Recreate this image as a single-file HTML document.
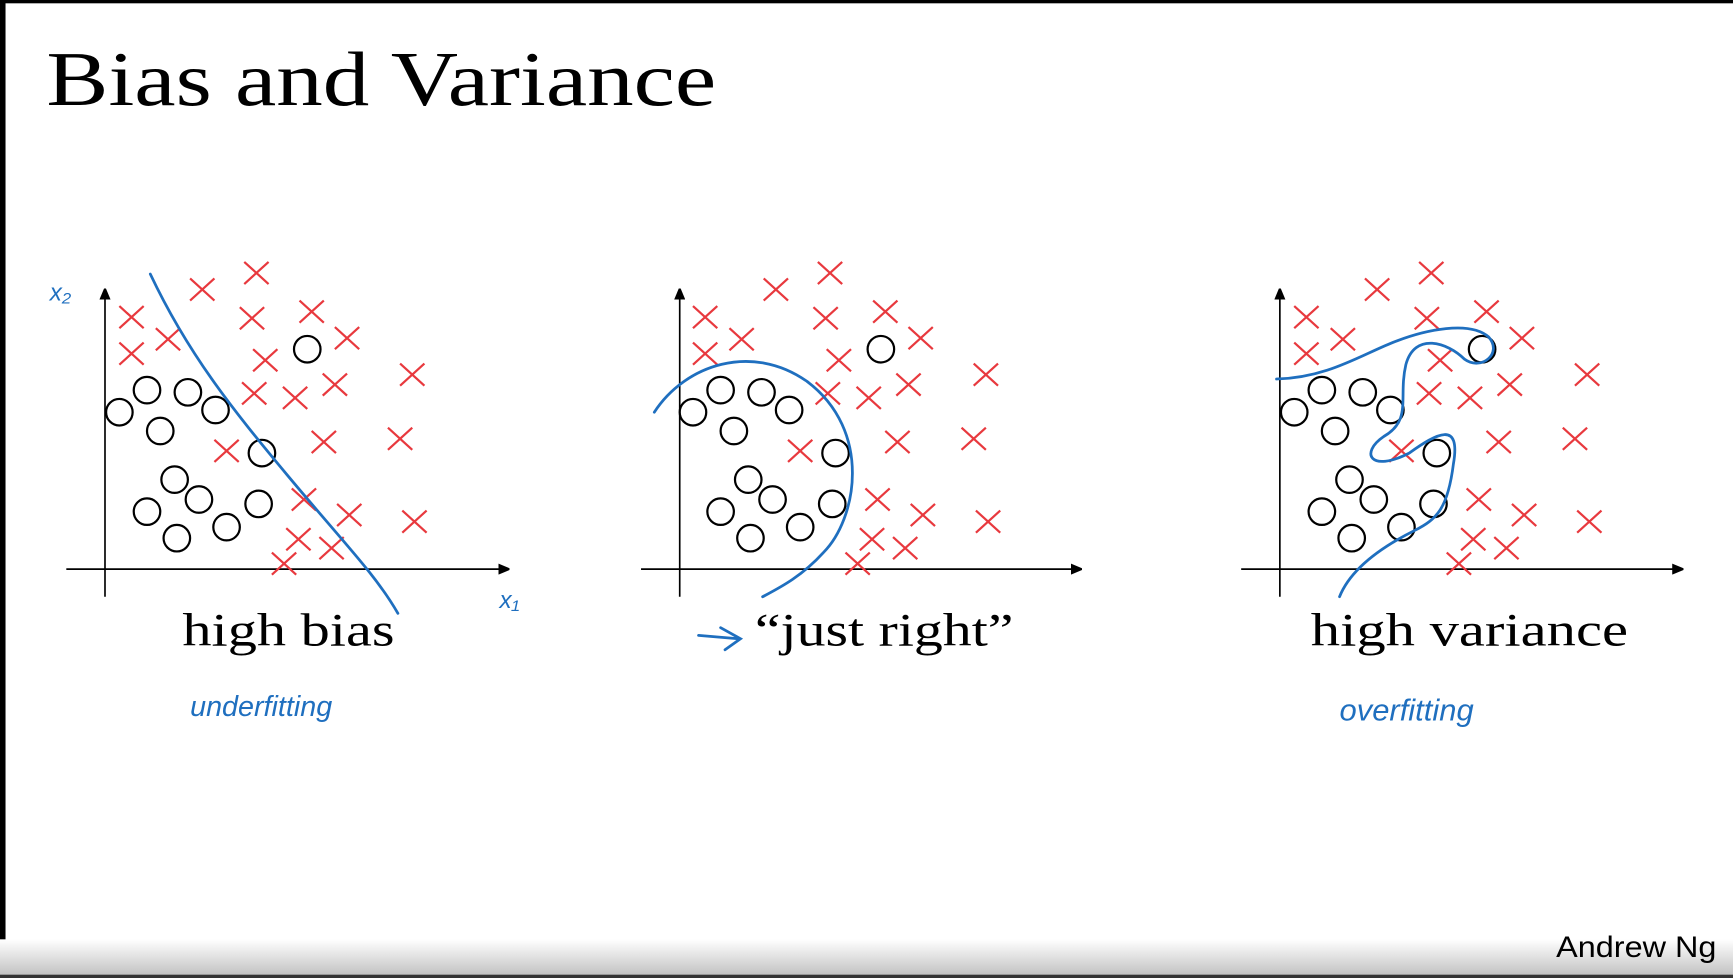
<!DOCTYPE html>
<html><head><meta charset="utf-8">
<style>
html,body{margin:0;padding:0;background:#fff;}
svg{display:block;}
</style></head>
<body>
<svg width="1733" height="978" viewBox="0 0 1568 885" xmlns="http://www.w3.org/2000/svg" preserveAspectRatio="none">
<defs>
<linearGradient id="bot" x1="0" y1="0" x2="0" y2="1">
<stop offset="0" stop-color="#fff"/><stop offset="1" stop-color="#bdbdbd"/>
</linearGradient>
<marker id="ar" markerWidth="10" markerHeight="10" refX="9" refY="5" orient="auto" markerUnits="userSpaceOnUse">
<path d="M0,0 L12,5 L0,10 z" fill="#000"/>
</marker>
<g id="cross"><path d="M-11,-10 L11,10 M-11,10 L11,-10" stroke="#e8393e" stroke-width="2"/></g>
<g id="circ"><circle r="12" fill="none" stroke="#000" stroke-width="2"/></g>
</defs>
<rect width="1568" height="885" fill="#fff"/>
<rect x="0" y="0" width="1568" height="3" fill="#000"/>
<rect x="0" y="0" width="5" height="885" fill="#000"/>
<rect x="0" y="850" width="1568" height="35" fill="url(#bot)"/>
<rect x="0" y="882" width="1568" height="3" fill="#333"/>

<text x="42" y="95" font-family="Liberation Serif, serif" font-size="70" fill="#000" textLength="606" lengthAdjust="spacingAndGlyphs">Bias and Variance</text>

<line x1="95" y1="540" x2="95" y2="262" stroke="#000" stroke-width="1.5" marker-end="url(#ar)"/>
<line x1="60" y1="515" x2="460" y2="515" stroke="#000" stroke-width="1.5" marker-end="url(#ar)"/>
<g id="p1">
<use href="#circ" x="278" y="316"/><use href="#circ" x="133" y="353"/><use href="#circ" x="170" y="355"/><use href="#circ" x="108" y="373"/><use href="#circ" x="195" y="371"/><use href="#circ" x="145" y="390"/><use href="#circ" x="237" y="410"/><use href="#circ" x="158" y="434"/><use href="#circ" x="180" y="452"/><use href="#circ" x="133" y="463"/><use href="#circ" x="234" y="456"/><use href="#circ" x="205" y="477"/><use href="#circ" x="160" y="487"/>
<use href="#cross" x="232" y="247"/><use href="#cross" x="183" y="262"/><use href="#cross" x="119" y="287"/><use href="#cross" x="228" y="288"/><use href="#cross" x="282" y="282"/><use href="#cross" x="152" y="307"/><use href="#cross" x="119" y="320"/><use href="#cross" x="314" y="306"/><use href="#cross" x="240" y="326"/><use href="#cross" x="230" y="356"/><use href="#cross" x="267" y="360"/><use href="#cross" x="303" y="348"/><use href="#cross" x="373" y="339"/><use href="#cross" x="205" y="408"/><use href="#cross" x="293" y="400"/><use href="#cross" x="362" y="397"/><use href="#cross" x="275" y="452"/><use href="#cross" x="316" y="466"/><use href="#cross" x="375" y="472"/><use href="#cross" x="270" y="488"/><use href="#cross" x="300" y="496"/><use href="#cross" x="257" y="510"/>
</g>
<line x1="615" y1="540" x2="615" y2="262" stroke="#000" stroke-width="1.5" marker-end="url(#ar)"/>
<line x1="580" y1="515" x2="978" y2="515" stroke="#000" stroke-width="1.5" marker-end="url(#ar)"/>
<use href="#p1" x="519" y="0"/>
<line x1="1158" y1="540" x2="1158" y2="262" stroke="#000" stroke-width="1.5" marker-end="url(#ar)"/>
<line x1="1123" y1="515" x2="1522" y2="515" stroke="#000" stroke-width="1.5" marker-end="url(#ar)"/>
<use href="#p1" x="1063" y="0"/>

<g fill="none" stroke="#1f6fbf" stroke-width="2.5" stroke-linecap="round">
<path d="M136,248 C170,320 210,370 260,430 S340,520 360,555"/>
<path d="M592,373 C620,330 680,310 730,345 C790,390 775,470 745,500 C725,522 705,532 690,540"/>
<path d="M1155,343 C1200,342 1230,322 1260,310 C1290,298 1330,290 1347,305 C1360,320 1340,336 1325,325 C1310,310 1280,300 1272,330 C1265,360 1278,380 1252,395 C1230,410 1240,428 1275,410 C1300,392 1322,380 1315,420 C1310,460 1300,470 1280,480 C1240,500 1220,520 1212,540"/>
<path d="M632,575 L668,578 M652,568 L670,578 L656,588"/>
</g>

<g font-family="Liberation Serif, serif" font-size="42" fill="#000" lengthAdjust="spacingAndGlyphs">
<text x="165" y="584" textLength="192" lengthAdjust="spacingAndGlyphs">high bias</text>
<text x="683" y="584" textLength="234" lengthAdjust="spacingAndGlyphs">“just right”</text>
<text x="1186" y="584" textLength="287" lengthAdjust="spacingAndGlyphs">high variance</text>
</g>
<g font-family="Liberation Sans, sans-serif" font-style="italic" fill="#1f6fbf">
<text x="45" y="272" font-size="22">x₂</text>
<text x="452" y="550" font-size="22">x₁</text>
<text x="172" y="648" font-size="26">underfitting</text>
<text x="1212" y="652" font-size="28">overfitting</text>
</g>
<text x="1408" y="866" font-family="Liberation Sans, sans-serif" font-size="27" fill="#000" textLength="145" lengthAdjust="spacingAndGlyphs">Andrew Ng</text>
</svg>
</body></html>
